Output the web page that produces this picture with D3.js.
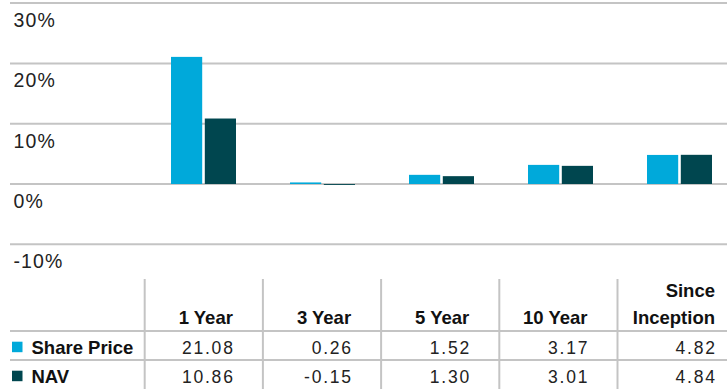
<!DOCTYPE html>
<html>
<head>
<meta charset="utf-8">
<script src="https://cdn.jsdelivr.net/npm/d3@7"></script>
<style>
  html, body { margin: 0; padding: 0; background: #fff; }
  svg { display: block; }
  text { font-family: "Liberation Sans", Arial, sans-serif; }
</style>
</head>
<body>
<svg id="chart" width="727" height="389"></svg>
<script>
// Cumulative performance (%) by period
const periods = ["1 Year", "3 Year", "5 Year", "10 Year", "Since Inception"];
const periodLabels = [["1 Year"], ["3 Year"], ["5 Year"], ["10 Year"], ["Since", "Inception"]];
const seriesNames = ["Share Price", "NAV"];
const sharePrice = [21.08, 0.26, 1.52, 3.17, 4.82];
const nav = [10.86, -0.15, 1.30, 3.01, 4.84];
const yTicks = [30, 20, 10, 0, -10];
const colors = ["#00A9DA", "#00464F"];

const svg = d3.select("#chart");
const W = 727, H = 389;
const gridColor = "#c4c4c4";

// Scales
const y = d3.scaleLinear().domain([-10, 30]).range([244.3, 3.1]);
const x0 = d3.scaleBand().domain(periods).range([144, 739]).paddingInner(0).paddingOuter(0);
const x1 = d3.scaleBand().domain(seriesNames).range([27, 92]).paddingInner(5 / 65);
const col = d3.scaleBand().domain(periods).range([144.7, 144.7 + 5 * 118.2]);

const series = [sharePrice, nav];

// Horizontal gridlines with labels under each line
const grid = svg.append("g");
grid.selectAll("line").data(yTicks).join("line")
  .attr("x1", 10).attr("x2", W)
  .attr("y1", d => y(d)).attr("y2", d => y(d))
  .attr("stroke", gridColor).attr("stroke-width", 2);
grid.selectAll("text").data(yTicks).join("text")
  .attr("x", 13.5).attr("y", d => y(d) + 24)
  .attr("font-size", 19.5).attr("letter-spacing", 1.1)
  .attr("fill", "#222")
  .text(d => d + "%");

// Bars
const bars = svg.append("g");
periods.forEach((p, i) => {
  seriesNames.forEach((s, j) => {
    const v = series[j][i];
    bars.append("rect")
      .attr("x", x0(p) + x1(s))
      .attr("width", x1.bandwidth())
      .attr("y", y(Math.max(0, v)))
      .attr("height", Math.abs(y(v) - y(0)))
      .attr("fill", colors[j]);
  });
});

// Data table
const table = svg.append("g");
const rowLineY = [331, 360];
const rowBase = [354.3, 383.3];

table.selectAll("line.h").data(rowLineY).join("line")
  .attr("class", "h")
  .attr("x1", 10).attr("x2", W)
  .attr("y1", d => d).attr("y2", d => d)
  .attr("stroke", gridColor).attr("stroke-width", 2);

table.selectAll("line.v").data(periods).join("line")
  .attr("class", "v")
  .attr("x1", d => col(d)).attr("x2", d => col(d))
  .attr("y1", 279).attr("y2", H)
  .attr("stroke", gridColor).attr("stroke-width", 2);

// right edge of text inside each column (last column is clipped by the page edge)
const textRight = (p, i) => i < periods.length - 1 ? col(p) + col.bandwidth() - 30 : 715;

// Column headers
periods.forEach((p, i) => {
  const lines = periodLabels[i];
  lines.forEach((ln, k) => {
    table.append("text")
      .attr("x", textRight(p, i))
      .attr("y", 324 - (lines.length - 1 - k) * 27)
      .attr("text-anchor", "end")
      .attr("font-size", 18.5).attr("font-weight", "bold")
      .attr("fill", "#111")
      .text(ln);
  });
});

// Row labels with colour keys
seriesNames.forEach((s, j) => {
  table.append("rect")
    .attr("x", 12).attr("y", rowBase[j] - 12.6)
    .attr("width", 10.5).attr("height", 10.5)
    .attr("fill", colors[j]);
  table.append("text")
    .attr("x", 31.5).attr("y", rowBase[j])
    .attr("font-size", 18.5).attr("font-weight", "bold")
    .attr("fill", "#111")
    .text(s);
});

// Values
seriesNames.forEach((s, j) => {
  periods.forEach((p, i) => {
    table.append("text")
      .attr("x", textRight(p, i) + 1.8)
      .attr("y", rowBase[j])
      .attr("text-anchor", "end")
      .attr("font-size", 17.5).attr("letter-spacing", 1.8)
      .attr("fill", "#222")
      .text(series[j][i].toFixed(2));
  });
});
</script>
</body>
</html>
